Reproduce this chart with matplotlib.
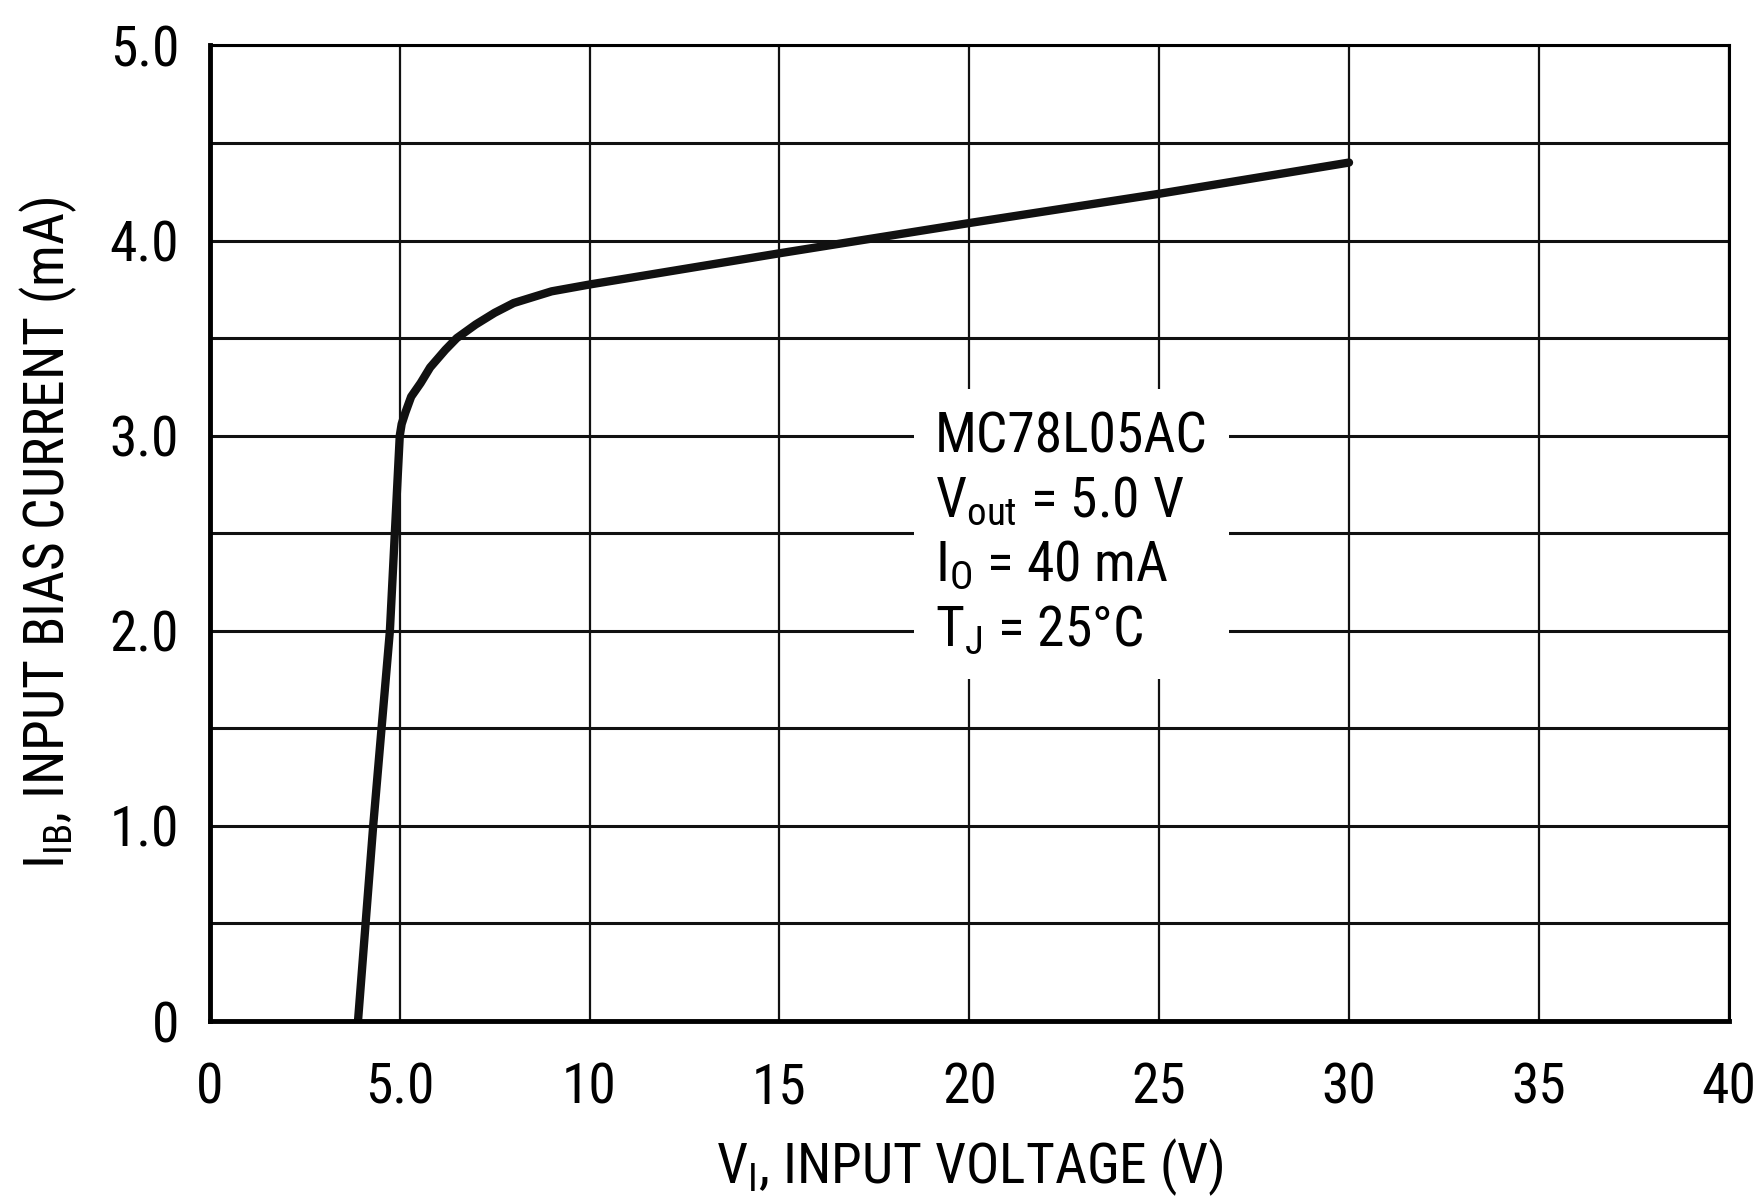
import matplotlib
matplotlib.use("Agg")
import matplotlib.pyplot as plt
from matplotlib.ticker import MultipleLocator

# values
v_in = [3.9, 4.3, 4.74, 4.87, 5.0, 5.05, 5.15, 5.3, 5.55, 5.8, 6.2, 6.5, 7.0, 7.5, 8.0, 9.0, 10, 15, 20, 25, 30]
i_bias = [0.0, 1.0, 2.0, 2.5, 3.0, 3.06, 3.12, 3.2, 3.27, 3.35, 3.44, 3.5, 3.57, 3.63, 3.68, 3.74, 3.775, 3.935, 4.09, 4.24, 4.40]

x_ticks = [0, 5, 10, 15, 20, 25, 30, 35, 40]
x_ticklabels = ["0", "5.0", "10", "15", "20", "25", "30", "35", "40"]
y_ticks = [0, 1, 2, 3, 4, 5]
y_ticklabels = ["0", "1.0", "2.0", "3.0", "4.0", "5.0"]

note = "MC78L05AC\nV$_{\\mathrm{out}}$ = 5.0 V\nI$_{\\mathrm{O}}$ = 40 mA\nT$_{\\mathrm{J}}$ = 25°C"

plt.rcParams["font.family"] = ["Roboto Condensed", "DejaVu Sans"]
plt.rcParams["mathtext.fontset"] = "custom"
plt.rcParams["mathtext.rm"] = "Roboto Condensed"
plt.rcParams["mathtext.it"] = "Roboto Condensed"

fig = plt.figure(figsize=(17.64, 11.97), dpi=100)
ax = fig.add_axes([0.119, 0.147, 0.861, 0.815])

ax.plot(v_in, i_bias, color="#111111", lw=6, solid_capstyle="round", zorder=2)

ax.set_xlim(0, 40)
ax.set_ylim(0, 5)
ax.set_xticks(x_ticks)
ax.set_xticklabels(x_ticklabels)
ax.set_yticks(y_ticks)
ax.set_yticklabels(y_ticklabels)
ax.yaxis.set_minor_locator(MultipleLocator(0.5))
ax.tick_params(which="both", length=0, labelsize=40)
ax.tick_params(axis="x", pad=29)
ax.tick_params(axis="y", pad=22)

ax.set_axisbelow(True)
ax.grid(axis="x", color="#111111", lw=1.6)
ax.grid(axis="y", which="both", color="#111111", lw=2.2)

for side in ["left", "bottom"]:
    ax.spines[side].set_linewidth(3.5)
for side in ["top", "right"]:
    ax.spines[side].set_linewidth(2.2)

ax.set_xlabel("V$_{\\mathrm{I}}$, INPUT VOLTAGE (V)", fontsize=40, labelpad=16)
ax.set_ylabel("I$_{\\mathrm{IB}}$, INPUT BIAS CURRENT (mA)", fontsize=40, labelpad=22)

# va="baseline" pins the last line (T_J) baseline
ax.text(19.09, 1.92, note, fontsize=40, va="baseline", ha="left", linespacing=1.28,
        bbox=dict(facecolor="white", edgecolor="none", pad=15), zorder=3)

fig.savefig("out.png", dpi=100, facecolor="white")
